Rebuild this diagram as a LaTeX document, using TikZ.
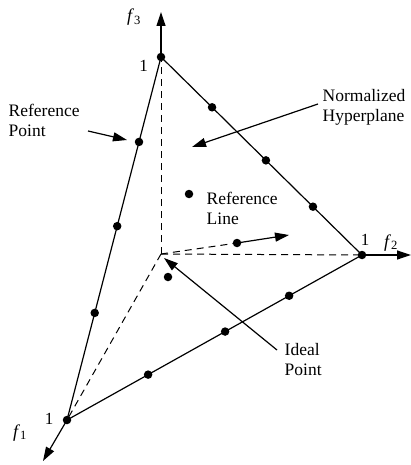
\documentclass[tikz,border=0pt]{standalone}
\usepackage{fontspec}
\setmainfont{Liberation Serif}
\usetikzlibrary{arrows.meta,calc}
\begin{document}
\begin{tikzpicture}[x=1pt,y=-1pt,
  edge/.style={line width=1.2pt},
  dashaxis/.style={line width=1pt,dash pattern=on 7pt off 5pt},
  arr/.style={line width=1.2pt,-{Triangle[length=14pt,width=9pt]}},
  dot/.style={circle,fill=black,inner sep=0pt,minimum size=8.5pt},
  lbl/.style={font=\fontsize{17.5}{20}\selectfont,align=left,inner sep=0pt,anchor=north west},
  num/.style={font=\fontsize{17}{20}\selectfont,inner sep=0pt,anchor=base},
  axl/.style={font=\fontsize{18}{20}\selectfont,inner sep=0pt,anchor=base}
]
\useasboundingbox (0,0) rectangle (411,465);
% key points
\coordinate (O) at (161,254);
\coordinate (V3) at (161,57);
\coordinate (V2) at (362,255);
\coordinate (V1) at (67,420);
\coordinate (T3) at (161,12);
\coordinate (T2) at (411,255);
\coordinate (T1) at (43,461);
% dashed axes inside
\draw[dashaxis] (O) -- (V3);
\draw[dashaxis] (O) -- (V2);
\draw[dashaxis] (O) -- (V1);
% triangle edges
\draw[edge] (V3) -- (V1) -- (V2) -- cycle;
% axis arrows
\draw[arr] (V3) -- (T3);
\draw[arr] (V2) -- (T2);
\draw[arr] (V1) -- (T1);
% vertex dots
\node[dot] (d3) at (V3) {};
\node[dot] (d2) at (V2) {};
\node[dot] (d1) at (V1) {};
% edge dots
\node[dot] (a1) at ($(V3)!0.234!(V1)$) {};
\node[dot] (a2) at ($(V3)!0.466!(V1)$) {};
\node[dot] (a3) at ($(V3)!0.705!(V1)$) {};
\node[dot] (b1) at ($(V3)!0.254!(V2)$) {};
\node[dot] (b2) at ($(V3)!0.522!(V2)$) {};
\node[dot] (b3) at ($(V3)!0.756!(V2)$) {};
\node[dot] (c1) at ($(V1)!0.275!(V2)$) {};
\node[dot] (c2) at ($(V1)!0.536!(V2)$) {};
\node[dot] (c3) at ($(V1)!0.753!(V2)$) {};
% other dots
\node[dot] (p1) at (189,194) {};
\node[dot] (p2) at (168,277) {};
\node[dot] (r) at (237,243) {};
% reference line
\draw[dashaxis] (O) -- (r);
\coordinate (rt) at (289,235);
\draw[arr] (r.center) -- (rt);
% axis labels
\node[axl] (f3) at (134,22) {\textit{f}\textsubscript{3}};
\node[axl] (f2) at (391,247) {\textit{f}\textsubscript{2}};
\node[axl] (f1) at (20,437) {\textit{f}\textsubscript{1}};
\node[num] (n3) at (143.5,72) {1};
\node[num] (n2) at (365,245) {1};
\node[num] (n1) at (49,424) {1};
% text labels
\node[lbl] (refpt) at (8.5,104) {Reference\\Point};
\node[lbl] (hyper) at (322.5,89) {Normalized\\Hyperplane};
\node[lbl] (refln) at (206.5,192) {Reference\\Line};
\node[lbl] (ideal) at (284.5,343) {Ideal\\Point};
% pointer arrows
\coordinate (s1) at (88,131);
\coordinate (e1) at (127,140);
\draw[arr] (s1) -- (e1);
\coordinate (s2) at (318,104);
\coordinate (e2) at (192,147);
\draw[arr] (s2) -- (e2);
\coordinate (s3) at (277,350);
\coordinate (e3) at (164,258);
\draw[arr] (s3) -- (e3);
\end{tikzpicture}
\end{document}
